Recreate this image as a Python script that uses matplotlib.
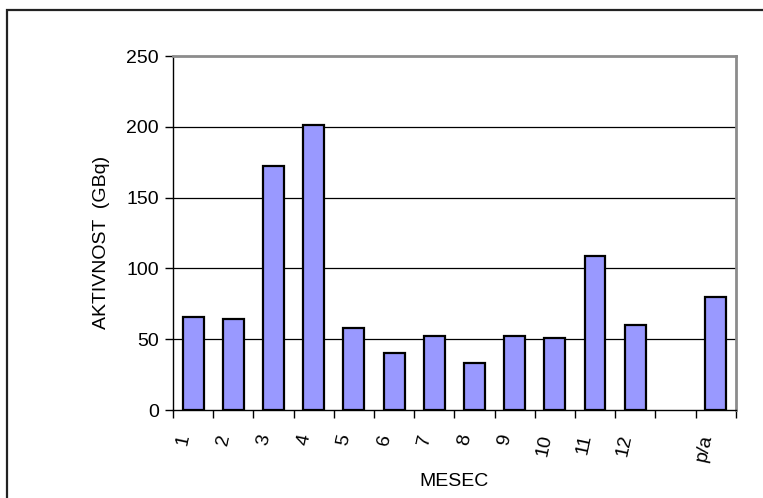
import numpy as np
import matplotlib
matplotlib.use("Agg")
import matplotlib.pyplot as plt
from matplotlib.patches import Rectangle
import matplotlib.transforms as mtransforms

plt.rcParams['font.family'] = ['Liberation Sans', 'DejaVu Sans']

# Monthly activity (GBq); the empty slot before "p/a" has no bar
categories = ['1', '2', '3', '4', '5', '6', '7', '8', '9', '10', '11', '12', '', 'p/a']
activity = [66, 64, 172, 201, 58, 40, 52, 33, 52, 50.5, 109, 60, np.nan, 80]
y_ticks = [0, 50, 100, 150, 200, 250]

W, H = 763, 498
fig = plt.figure(figsize=(W / 100, H / 100), dpi=100)

# outer frame of the chart object
fig.patches.append(Rectangle((7 / W, -0.1), 1.2, (H - 10) / H + 0.1, transform=fig.transFigure,
                             fill=False, edgecolor='#222222', linewidth=1.6, zorder=0))

ax = fig.add_axes([173 / W, 1 - 410 / H, (735.7 - 173) / W, (410 - 56) / H])

x = np.arange(len(categories))
ax.bar(x, activity, width=0.52, color='#9999FF', edgecolor='black', linewidth=1.6, zorder=3)

FS = 14
ax.set_xlim(-0.5, len(categories) - 0.5)
ax.set_ylim(0, 250)
ax.set_yticks(y_ticks)
ax.set_yticklabels([str(v) for v in y_ticks], fontsize=FS)

for v in y_ticks[1:-1]:
    ax.axhline(v, color='black', linewidth=0.9, zorder=1)

# category boundaries carry the tick marks, labels sit at the centres
ax.set_xticks(np.arange(-0.5, len(categories)), minor=True)
ax.set_xticks(x)
ax.set_xticklabels(categories, fontsize=FS, rotation=78, ha='right', va='top')
shift = mtransforms.ScaledTranslation(-3 / 100, 0, fig.dpi_scale_trans)
for lbl in ax.get_xticklabels():
    lbl.set_transform(lbl.get_transform() + shift)
ax.tick_params(axis='x', which='major', length=0, pad=16.5)
ax.tick_params(axis='x', which='minor', length=6, width=1, color='black', direction='out')
ax.tick_params(axis='y', length=6, width=1, color='black', direction='out', pad=4)

for side in ('top', 'right'):
    ax.spines[side].set_color('#8c8c8c')
    ax.spines[side].set_linewidth(2)
for side in ('left', 'bottom'):
    ax.spines[side].set_color('black')
    ax.spines[side].set_linewidth(1)

ax.set_ylabel('AKTIVNOST  (GBq)', fontsize=FS, va='center')
ax.yaxis.set_label_coords((101 - 173) / (735.7 - 173), (410 - 242) / 354)
ax.set_xlabel('MESEC', fontsize=FS, va='center')
ax.xaxis.set_label_coords(0.5, (410 - 481) / 354)

fig.savefig('out.png', dpi=100)
